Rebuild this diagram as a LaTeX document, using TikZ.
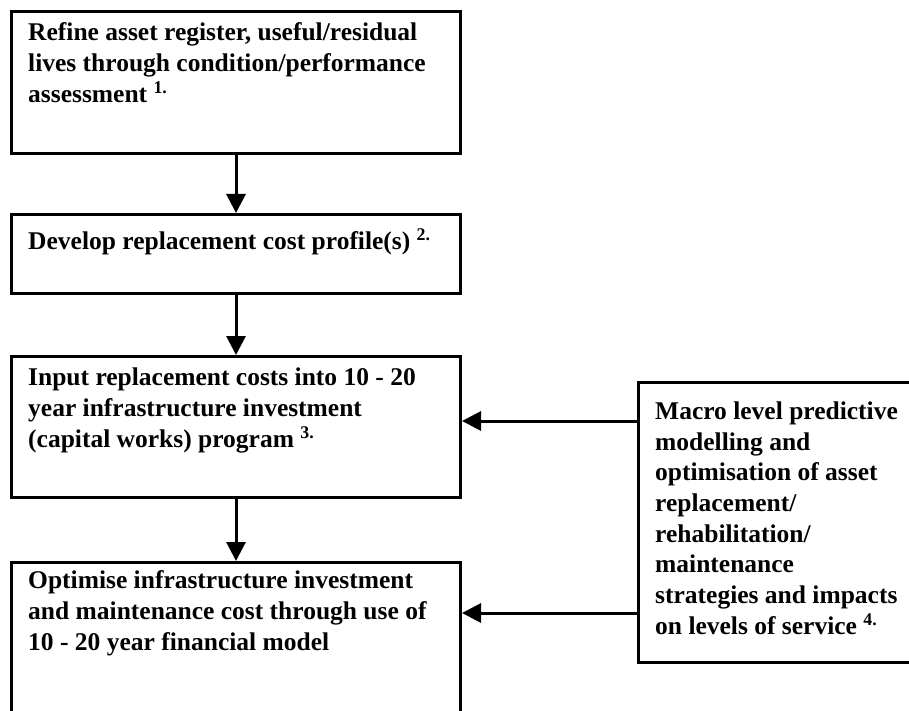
\documentclass[tikz,border=0pt]{standalone}
\usepackage{fontspec}
\setmainfont{Liberation Serif}
\usetikzlibrary{arrows.meta}
\tikzset{
  box/.style={draw, line width=3pt, rectangle, inner sep=0pt, anchor=north west},
  % text blocks hang from a strut, so the node top sits 0.7\baselineskip above the first baseline
  txt/.style={anchor=north west, align=left, inner sep=0pt,
    font=\bfseries\fontsize{25.5}{31}\selectfont, execute at begin node=\strut},
  arr/.style={line width=3pt, -{Triangle[length=19pt,width=19pt]}}
}
\begin{document}
\begin{tikzpicture}[x=1pt,y=-1pt]
\useasboundingbox (0,0) rectangle (909,711);
\clip (0,0) rectangle (909,711);

% main column of process boxes
\node[box, minimum width=449pt, minimum height=142pt] (b1) at (10,10) {};
\node[box, minimum width=449pt, minimum height=79pt]  (b2) at (10,213) {};
\node[box, minimum width=449pt, minimum height=141pt] (b3) at (10,355) {};
\node[box, minimum width=449pt, minimum height=200pt] (b4) at (10,561) {};
% side box feeding the lower two steps
\node[box, minimum width=290pt, minimum height=280pt] (r)  at (637,381) {};

% box texts (first baselines at 44, 249, 389, 592 and 423)
\node[txt] (t1) at (28,22.3) {Refine asset register, useful/residual\\
  lives through condition/performance\\
  assessment \textsuperscript{1.}};
\node[txt] (t2) at (28,227.3) {Develop replacement cost profile(s) \textsuperscript{2.}};
\node[txt] (t3) at (28,367.3) {Input replacement costs into 10 - 20\\
  year infrastructure investment\\
  (capital works) program \textsuperscript{3.}};
\node[txt] (t4) at (28,570.3) {Optimise infrastructure investment\\
  and maintenance cost through use of\\
  10 - 20 year financial model};
\node[txt, font=\bfseries\fontsize{25.5}{30.7}\selectfont] (t5) at (655,401.5) {Macro level predictive\\
  modelling and\\
  optimisation of asset\\
  replacement/\\
  rehabilitation/\\
  maintenance\\
  strategies and impacts\\
  on levels of service \textsuperscript{4.}};

% connectors
\coordinate (h1) at (0,421);
\coordinate (h2) at (0,613);
\draw[arr] (b1.south) -- (b2.north);
\draw[arr] (b2.south) -- (b3.north);
\draw[arr] (b3.south) -- (b4.north);
\draw[arr] (r.west |- h1) -- (b3.east |- h1);
\draw[arr] (r.west |- h2) -- (b4.east |- h2);
\end{tikzpicture}
\end{document}
